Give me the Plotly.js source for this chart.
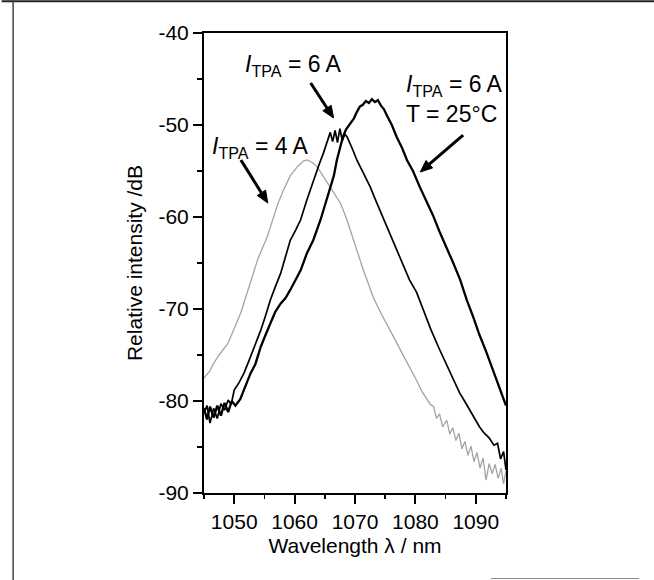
<!DOCTYPE html>
<html>
<head>
<meta charset="utf-8">
<script src="https://cdn.plot.ly/plotly-3.0.1.min.js"></script>
<style>html,body{margin:0;padding:0;background:#fff;}#chart{width:654px;height:580px;}</style>
</head>
<body>
<div id="chart"></div>
<script>
// Wavelength (nm) and relative intensity (dB)
const grayWl = [1045, 1046, 1046.6, 1047.5, 1049, 1050, 1051.1, 1052.5, 1053.9, 1055.5, 1057.2, 1058.2, 1059.3, 1060.5, 1061.5, 1062.1, 1063, 1063.8, 1064.6, 1065.4, 1066.5, 1067.6, 1068.6, 1069.7, 1071.3, 1073, 1074.4, 1075.8, 1077.2, 1078.6, 1080, 1081.2, 1082.5, 1083, 1083.5, 1084, 1084.5, 1085.2, 1085.7, 1086.2, 1086.7, 1087.2, 1087.7, 1088.2, 1088.7, 1089.2, 1089.7, 1090.2, 1090.7, 1091.2, 1091.7, 1092.2, 1092.7, 1093.2, 1093.7, 1094.2, 1094.6, 1095];
const grayDb = [-77.5, -76.7, -75.9, -75.0, -73.7, -72.2, -70.4, -67.5, -64.6, -62.1, -58.6, -57.0, -55.5, -54.5, -53.9, -53.8, -54.1, -54.6, -55.4, -56.3, -57.3, -58.5, -60.2, -62.5, -65.6, -68.7, -70.6, -72.3, -74.1, -75.8, -77.5, -79.1, -80.4, -80.6, -81.9, -81.4, -82.8, -82.1, -83.6, -82.9, -84.3, -83.5, -85.2, -84.4, -85.9, -84.9, -86.6, -85.6, -87.3, -86.2, -88.6, -86.8, -87.9, -86.9, -88.4, -87.3, -89.0, -87.6];

const a6Wl = [1045, 1045.5, 1046, 1046.6, 1047.2, 1047.8, 1048.4, 1049, 1049.5, 1050, 1050.8, 1051.6, 1052.4, 1053.2, 1054.4, 1055.2, 1056, 1056.8, 1057.7, 1058.5, 1059.3, 1060.2, 1061, 1062, 1063.1, 1064, 1064.8, 1065.4, 1065.9, 1066.3, 1066.7, 1067.1, 1067.5, 1067.9, 1068.3, 1068.7, 1069.2, 1069.7, 1070.3, 1071.4, 1072.5, 1073.5, 1074.6, 1075.8, 1076.9, 1078, 1079, 1080.2, 1081.4, 1082.6, 1084, 1085.1, 1086.2, 1087.3, 1088.4, 1089.5, 1090.6, 1091.4, 1092.2, 1093, 1093.6, 1094.1, 1094.6, 1095];
const a6Db = [-81.3, -80.5, -82.4, -80.8, -81.9, -80.3, -81.0, -79.9, -80.4, -78.8, -78.0, -77.0, -75.7, -74.4, -72.3, -70.7, -69.0, -67.6, -66.1, -64.3, -62.5, -61.4, -60.3, -58.2, -56.0, -54.4, -53.0, -51.7, -50.8, -51.8, -50.6, -51.9, -50.4, -51.7, -51.0, -51.3, -52.0, -52.8, -53.8, -55.2, -56.7, -58.3, -60.0, -62.0, -63.6, -65.4, -66.8, -68.2, -70.3, -72.3, -74.4, -76.0, -77.6, -79.1, -80.3, -81.5, -82.8, -83.5, -84.0, -84.8, -84.6, -86.3, -85.5, -87.5];

const b6Wl = [1045, 1045.5, 1046, 1046.6, 1047.2, 1047.8, 1048.4, 1049, 1049.6, 1050.2, 1051, 1051.6, 1052.2, 1052.7, 1053.5, 1054.4, 1055.2, 1056, 1056.8, 1057.7, 1058.5, 1059.3, 1060.2, 1061, 1062, 1063.1, 1064.3, 1065.1, 1065.9, 1066.5, 1067, 1067.5, 1068, 1068.5, 1069.2, 1069.8, 1070.3, 1070.8, 1071.3, 1071.8, 1072.3, 1072.8, 1073.3, 1073.8, 1074.3, 1074.8, 1075.3, 1076.1, 1076.9, 1077.8, 1078.6, 1079.6, 1080.7, 1081.8, 1082.9, 1084, 1085.1, 1086.2, 1087.4, 1088.5, 1089.6, 1090.6, 1091.7, 1092.8, 1093.9, 1095];
const b6Db = [-80.8, -82.0, -80.6, -81.8, -80.5, -81.6, -80.2, -81.2, -80.0, -80.5, -79.8, -78.8, -77.8, -77.0, -76.0, -74.1, -72.8, -71.5, -70.3, -69.4, -68.8, -67.9, -66.8, -65.8, -64.0, -62.5, -60.3, -58.5, -56.7, -55.5, -53.8, -52.5, -51.3, -50.5, -49.8, -49.3, -48.6, -48.0, -47.8, -47.4, -47.6, -47.2, -47.5, -47.3, -47.9, -48.3, -49.0, -50.0, -51.3, -52.5, -53.8, -55.0, -56.7, -58.2, -59.8, -61.6, -63.2, -64.9, -66.8, -69.0, -70.9, -72.8, -74.6, -76.6, -78.5, -80.5];

const xTickVals = [1050, 1060, 1070, 1080, 1090];
const xTickText = ['1050', '1060', '1070', '1080', '1090'];
const yTickVals = [-90, -80, -70, -60, -50, -40];
const yTickText = ['-90', '-80', '-70', '-60', '-50', '-40'];

const FONT = 'Liberation Sans, Arial, sans-serif';

const traces = [
  {x: grayWl, y: grayDb, type: 'scatter', mode: 'lines', line: {color: '#a3a3a3', width: 1.3}, hoverinfo: 'skip'},
  {x: a6Wl, y: a6Db, type: 'scatter', mode: 'lines', line: {color: '#000000', width: 1.7}, hoverinfo: 'skip'},
  {x: b6Wl, y: b6Db, type: 'scatter', mode: 'lines', line: {color: '#000000', width: 2.3}, hoverinfo: 'skip'}
];

const labelFont = {family: FONT, size: 23, color: '#000'};

// arrow shapes: shaft + filled head, in data coordinates
function arrow(tail, base, tip, c1, c2) {
  return [
    {type: 'line', xref: 'x', yref: 'y', x0: tail[0], y0: tail[1], x1: base[0], y1: base[1], line: {color: '#000', width: 3}},
    {type: 'path', xref: 'x', yref: 'y', path: `M ${tip[0]} ${tip[1]} L ${c1[0]} ${c1[1]} L ${c2[0]} ${c2[1]} Z`,
     fillcolor: '#000', line: {color: '#000', width: 1}}
  ];
}

const layout = {
  width: 654, height: 580,
  margin: {l: 204, r: 148, t: 33, b: 87},
  paper_bgcolor: '#fff', plot_bgcolor: '#fff',
  showlegend: false,
  font: {family: FONT, color: '#000'},
  xaxis: {
    range: [1045, 1095], tickvals: xTickVals, ticktext: xTickText, ticks: 'outside', ticklen: 9, tickwidth: 2, tickcolor: '#000',
    minor: {dtick: 5, tick0: 1045, ticks: 'outside', ticklen: 4, tickwidth: 1.5, tickcolor: '#000'},
    showline: true, linecolor: '#000', linewidth: 2, mirror: true, showgrid: false, zeroline: false,
    tickfont: {family: FONT, size: 21, color: '#000'},
    title: {text: 'Wavelength λ / nm', font: {family: FONT, size: 21, color: '#000'}, standoff: 6}
  },
  yaxis: {
    range: [-90, -40], tickvals: yTickVals, ticktext: yTickText, ticks: 'outside', ticklen: 9, tickwidth: 2, tickcolor: '#000',
    minor: {dtick: 5, tick0: -90, ticks: 'outside', ticklen: 5, tickwidth: 1.5, tickcolor: '#000'},
    showline: true, linecolor: '#000', linewidth: 2, mirror: true, showgrid: false, zeroline: false,
    tickfont: {family: FONT, size: 21, color: '#000'},
    title: {text: 'Relative intensity /dB', font: {family: FONT, size: 21, color: '#000'}, standoff: 10}
  },
  annotations: [
    {x: 1051.4, y: -43.5, xref: 'x', yref: 'y', xanchor: 'left', yanchor: 'middle', showarrow: false,
     text: '<i>I</i><sub>TPA</sub> = 6 A', font: labelFont},
    {x: 1094.8, y: -47.2, xref: 'x', yref: 'y', xanchor: 'right', yanchor: 'middle', showarrow: false, align: 'left',
     text: '<i>I</i><sub>TPA</sub> = 6 A<br>T = 25°C', font: labelFont},
    {x: 1046.0, y: -52.4, xref: 'x', yref: 'y', xanchor: 'left', yanchor: 'middle', showarrow: false,
     text: '<i>I</i><sub>TPA</sub> = 4 A', font: labelFont}
  ],
  shapes: [
    // scanned page frame lines
    {type: 'line', xref: 'paper', yref: 'paper', x0: -0.67, x1: 1.49, y0: 1.069, y1: 1.069, line: {color: '#222', width: 2}},
    {type: 'line', xref: 'paper', yref: 'paper', x0: -0.632, x1: -0.632, y0: 1.071, y1: -0.189, line: {color: '#444', width: 1.5}},
    {type: 'line', xref: 'paper', yref: 'paper', x0: 0.95, x1: 1.44, y0: -0.186, y1: -0.186, line: {color: '#888', width: 1}},
    ...arrow([1062.66, -45.43], [1065.36, -48.15], [1066.45, -49.24], [1064.67, -48.45], [1066.06, -47.86]),
    ...arrow([1087.90, -51.09], [1082.31, -54.26], [1080.81, -55.11], [1081.77, -53.85], [1082.85, -54.67]),
    ...arrow([1051.11, -53.80], [1054.50, -57.37], [1055.56, -58.48], [1053.81, -57.66], [1055.20, -57.08])
  ]
};

Plotly.newPlot('chart', traces, layout, {staticPlot: true, displayModeBar: false});
</script>
</body>
</html>
